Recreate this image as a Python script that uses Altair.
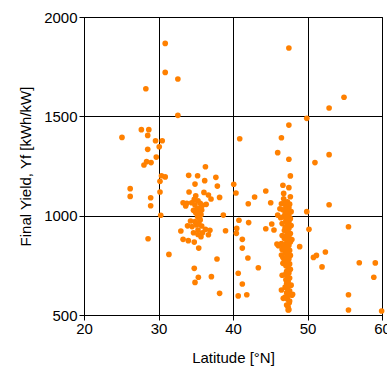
import altair as alt
import pandas as pd

lat_other = [30.9, 30.9, 32.6, 28.3, 32.6, 27.7, 28.7, 28.55, 25.1, 29.6,
             30.5, 30.1, 28.55, 29.7, 28.4, 29.0, 28.05, 36.3, 40.9, 30.4,
             30.9, 30.2, 26.2, 26.2, 28.95, 30.2, 28.95, 30.3, 28.6, 31.4,
             34.05, 35.25, 37.7, 36.2, 34.9, 37.9, 34.1, 36.1, 36.7, 37.05,
             38.2, 35.0, 34.8, 33.3, 33.8, 34.45, 33.65, 34.9, 35.9, 36.4,
             34.7, 35.8, 35.5, 35.25, 38.7, 34.3, 34.9, 35.6, 33.9, 35.1,
             35.8, 33.0, 34.7, 35.3, 35.9, 36.3, 36.9, 36.7, 35.7, 39.0,
             33.3, 34.0, 34.8, 35.4, 37.85, 34.8, 35.35, 34.9, 37.1, 38.2,
             35.3, 35.6, 35.2, 35.5, 35.0, 35.4, 34.5, 35.6, 35.7, 35.3,
             40.1, 40.4, 42.9, 44.4, 42.05, 45.06, 40.8, 42.1, 40.5, 40.45,
             45.2, 44.4, 45.5, 41.25, 41.25, 42.0, 43.4, 40.7, 41.25, 40.7,
             41.85, 46.0, 45.9, 46.1, 46.5, 46.0, 47.5, 47.5, 47.5, 47.7,
             46.7, 47.5, 46.8, 47.7, 46.8,
             49.9, 52.9, 54.9, 52.9, 51.0, 52.9, 49.9, 50.2, 55.5, 48.95,
             50.8, 51.2, 52.4, 51.95, 56.95, 59.1, 58.9, 55.5, 55.5, 59.95,
             48.0]
yield_other = [1867, 1721, 1688, 1639, 1505, 1433, 1433, 1404, 1394, 1377,
               1377, 1347, 1334, 1295, 1272, 1267, 1255, 1246, 1387, 1201,
               1195, 1173, 1136, 1097, 1090, 1119, 1050, 1002, 884, 805,
               1203, 1201, 1193, 1176, 1159, 1149, 1119, 1117, 1104, 1084,
               1092, 1100, 1082, 1065, 1062, 1065, 1049, 1054, 1052, 1057,
               1027, 1028, 1012, 995, 1003, 973, 970, 978, 949, 953,
               948, 923, 914, 928, 914, 931, 926, 904, 894, 924,
               881, 874, 867, 837, 782, 735, 690, 664, 693, 609,
               1075, 1040, 1035, 985, 1015, 960, 945, 1062, 1005, 905,
               1158, 1114, 1094, 1124, 1060, 1065, 977, 965, 936, 911,
               958, 934, 928, 881, 837, 787, 738, 710, 656, 596,
               602, 1003, 857, 849, 1392, 1317, 1284, 1456, 1844, 1200,
               1153, 1141, 1112, 1095, 1085,
               1490, 1542, 1596, 1307, 1267, 1055, 1020, 931, 944, 844,
               790, 800, 817, 742, 763, 762, 690, 602, 525, 520,
               604]

lat_column = [46.9, 47.3, 47.6, 47.1, 47.5, 46.7, 47.3, 47.8, 47.0, 47.5,
              46.8, 47.3, 47.7, 47.1, 47.5, 46.6, 47.3, 47.8, 47.0, 47.5,
              46.9, 47.3, 47.7, 47.2, 47.5, 46.9, 47.4, 47.7, 47.1, 47.5,
              46.8, 47.3, 47.6, 47.0, 47.4, 47.7, 47.2, 47.5, 46.9, 47.3,
              47.6, 47.1, 47.4, 47.7, 47.2, 47.5, 47.0, 47.3, 47.6, 47.1,
              47.4, 47.2, 47.5, 47.0, 47.3, 47.6, 46.5, 47.2, 47.4, 47.9,
              47.0, 47.3, 46.75, 47.6, 47.55, 47.2, 47.4, 47.5, 47.4, 46.5,
              46.6, 46.7, 47.8, 47.9, 46.6, 46.3, 46.5, 46.4, 46.5, 46.6,
              46.7]
yield_column = [1062, 1070, 1058, 1045, 1040, 1030, 1025, 1020, 1010, 1005,
                995, 990, 985, 975, 968, 960, 955, 950, 940, 935,
                925, 918, 910, 900, 892, 885, 875, 868, 860, 850,
                842, 835, 825, 815, 808, 800, 790, 782, 772, 765,
                757, 748, 740, 730, 720, 712, 703, 695, 686, 677,
                668, 658, 650, 640, 632, 622, 626, 612, 600, 600,
                590, 580, 584, 570, 562, 550, 540, 527, 525, 802,
                700, 760, 650, 880, 900, 1035, 1060, 990, 860, 830,
                790]

df = pd.DataFrame({
    "lat": lat_other + lat_column,
    "yf": yield_other + yield_column,
})

x_ticks = [20, 30, 40, 50, 60]
y_ticks = [500, 1000, 1500, 2000]

font = "Liberation Sans"

chart = alt.Chart(df).mark_circle(
    size=32, color="#ff8000", opacity=1
).encode(
    x=alt.X("lat:Q", scale=alt.Scale(domain=[20, 60], nice=False, zero=False),
            axis=alt.Axis(values=x_ticks, title="Latitude [°N]", format="d",
                          grid=True, gridColor="#000000", gridOpacity=1,
                          domainColor="#000000", tickColor="#000000",
                          tickSize=5, labelFontSize=15, titleFontSize=15,
                          labelFont=font, titleFont=font, labelColor="#000000",
                          titleColor="#000000", titleFontWeight="normal",
                          labelPadding=1, titlePadding=14, labelFlush=False)),
    y=alt.Y("yf:Q", scale=alt.Scale(domain=[500, 2000], nice=False, zero=False),
            axis=alt.Axis(values=y_ticks, title="Final Yield, Yf [kWh/kW]", format="d",
                          grid=True, gridColor="#000000", gridOpacity=1,
                          domainColor="#000000", tickColor="#000000",
                          tickSize=5, labelFontSize=15, titleFontSize=15,
                          labelFont=font, titleFont=font, labelColor="#000000",
                          titleColor="#000000", titleFontWeight="normal",
                          labelPadding=2, titlePadding=10, labelFlush=False)),
).properties(
    width=298, height=298,
    autosize=alt.AutoSizeParams(type="none"),
    padding={"left": 84, "top": 17, "right": 5, "bottom": 53},
).configure_view(stroke="#000000", strokeWidth=1)

chart.save("out.html", embed_options={"renderer": "svg", "actions": False})
